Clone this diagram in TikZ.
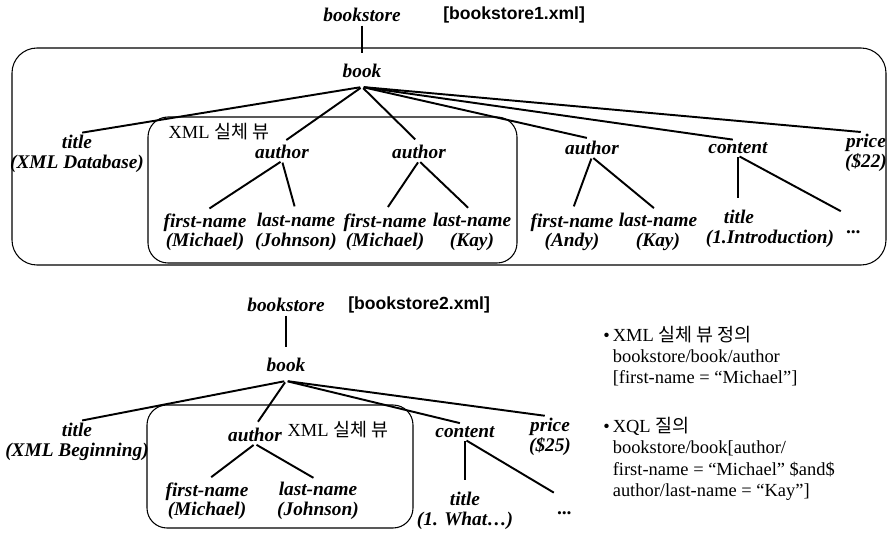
\documentclass[tikz,border=0pt]{standalone}
\usepackage{fontspec}
\setmainfont{Liberation Serif}
\newfontfamily\hangul{Noto Sans CJK KR}
\newfontfamily\sanstag{Liberation Sans}

\begin{document}
\begin{tikzpicture}[x=.2mm,y=-.2mm,
	lab/.style={font=\bfseries\itshape\fontsize{11}{11}\selectfont, align=center, inner sep=1pt},
	file/.style={anchor=west, inner sep=0pt, font=\sanstag\bfseries\fontsize{10}{12}\selectfont},
	kor/.style={font=\fontsize{10.5}{12}\selectfont, inner sep=1pt},
	tie/.style={line width=1.1pt, shorten <=1pt, shorten >=3pt},
	view/.style={line width=.6pt, rounded corners=4mm}]
\useasboundingbox (0,0) rectangle (888,536);

\path (362,15) node[lab] (store1) {bookstore}
	(443,15) node[file] (xml1) {[bookstore1.xml]}
	(362,71) node[lab,inner ysep=5pt] (book1) {book}
	(77,154) node[lab] (title1) {title\\(XML Database)}
	(219,132) node[kor] (view1) {XML {\hangul 실체 뷰}}
	(282,152) node[lab] (auth1) {author}
	(419,152) node[lab] (auth2) {author}
	(592,148) node[lab] (auth3) {author}
	(738,148) node[lab] (cont1) {content}
	(866,153) node[lab] (price1) {price\\(\$22)}
	(205,232) node[lab] (first1) {first-name\\(Michael)}
	(296,232) node[lab] (last1) {last-name\\(Johnson)}
	(385,232) node[lab] (first2) {first-name\\(Michael)}
	(472,232) node[lab] (last2) {last-name\\(Kay)}
	(572,232) node[lab] (first3) {first-name\\(Andy)}
	(658,232) node[lab] (last3) {last-name\\(Kay)}
	(770,229) node[lab] (sub1) {title\hspace*{12.4mm}\\(1.Introduction)}
	(854,227) node[lab,text height=1.6ex] (more1) {...}
	;

\draw [view,rounded corners=5mm] (12,48) rectangle (886,265);
\draw [view] (148,117) rectangle (517,263);
\draw [tie,shorten >=1pt] (store1) -- (book1);
\foreach \n in {title1,auth1,auth2,auth3,cont1,price1}
	\draw [tie] (book1.south) -- (\n.north);
\foreach \a/\b in {auth1/first1,auth1/last1,auth2/first2,auth2/last2,auth3/first3,auth3/last3}
	\draw [tie] (\a.south) -- (\b.north);
\draw [tie,shorten >=2mm] (cont1.south) -- (cont1.south |- sub1.north);
\draw [tie,shorten >=3mm] (cont1.south) -- (more1.north);

\path (286,305) node[lab] (store2) {bookstore}
	(348,305) node[file] (xml2) {[bookstore2.xml]}
	(286,365) node[lab,inner ysep=5pt] (book2) {book}
	(77,442) node[lab] (title2) {title\\(XML Beginning)}
	(255,435) node[lab] (auth4) {author}
	(338,430) node[kor] (view2) {XML {\hangul 실체 뷰}}
	(207,501) node[lab] (first4) {first-name\\(Michael)}
	(318,501) node[lab] (last4) {last-name\\(Johnson)}
	(465,432) node[lab] (cont2) {content}
	(550,437) node[lab] (price2) {price\\(\$25)}
	(465,511) node[lab] (sub2) {title\\(1. What…)}
	(565,508) node[lab,text height=1.6ex] (more2) {...}
	(603,326) node[kor,anchor=north west,inner sep=0pt] (query) {%
		\begin{tabular}{@{}l@{\hspace{.6mm}}l@{}}
		\textbullet & XML {\hangul 실체 뷰 정의}\\
		& bookstore/book/author\\
		& [first-name = “Michael”]\\[5.5mm]
		\textbullet & XQL {\hangul 질의}\\
		& bookstore/book[author/\\
		& first-name = “Michael” \$and\$\\
		& author/last-name = “Kay”]
		\end{tabular}}
	;

\draw [view] (147,405) rectangle (413,528);
\draw [tie,shorten >=1pt] (store2) -- (book2);
\foreach \n in {title2,auth4,cont2,price2}
	\draw [tie] (book2.south) -- (\n.north);
\foreach \b in {first4,last4}
	\draw [tie] (auth4.south) -- (\b.north);
\draw [tie,shorten >=2mm] (cont2.south) -- (cont2.south |- sub2.north);
\draw [tie,shorten >=2.6mm] (cont2.south) -- (more2.north);
\end{tikzpicture}
\end{document}
